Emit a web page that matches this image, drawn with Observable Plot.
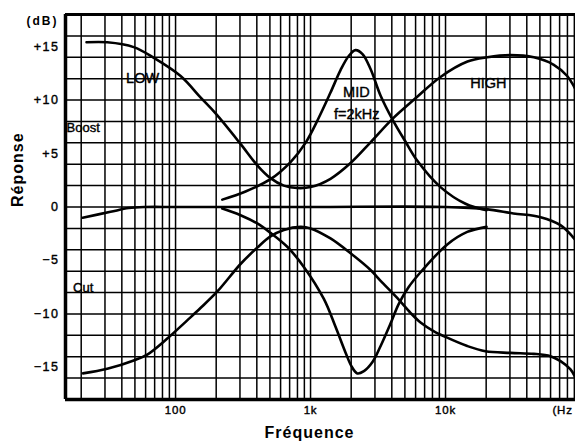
<!DOCTYPE html>
<html><head><meta charset="utf-8">
<script src="https://cdn.jsdelivr.net/npm/d3@7"></script>
<script src="https://cdn.jsdelivr.net/npm/@observablehq/plot@0.6"></script>
<style>
html,body{margin:0;padding:0;background:#fff;overflow:hidden;}
#chart svg{display:block;}
</style></head><body><div id="chart"></div>
<script>
// ---- data ----
const lowHighBoostFreq = [21.9, 31.2, 49, 69, 109, 153, 198, 303, 403, 505, 634, 797, 1000, 1406, 1980, 2783, 4030, 5990, 9180, 14550, 20370, 30300, 45100, 63400, 79700, 91800];
const lowHighBoostDb   = [15.4, 15.4, 14.95, 13.95, 12.25, 10.25, 8.75, 5.9, 3.9, 2.7, 2.0, 1.77, 1.86, 2.64, 4.11, 6.05, 8.22, 10.16, 12.16, 13.6, 14.0, 14.2, 14.0, 13.3, 12.25, 11.0];

const lowHighCutFreq = [20.6, 31.2, 49, 61.7, 86.8, 122, 153, 204, 303, 403, 505, 634, 843, 1000, 1406, 1980, 2783, 3305, 4385, 5505, 6530, 8150, 10000, 14490, 19770, 30300, 45100, 59900, 71100, 84300, 91800];
const lowHighCutDb   = [-15.56, -15.13, -14.35, -13.8, -12.3, -10.6, -9.45, -7.9, -5.33, -3.8, -2.75, -2.15, -1.86, -2.0, -2.94, -4.33, -5.89, -6.9, -8.5, -9.9, -10.8, -11.6, -12.15, -13.0, -13.49, -13.64, -13.73, -13.95, -14.42, -15.19, -15.96];

const flatFreq = [20.5, 33, 45, 60, 100, 1000, 10000, 20000, 31800, 50600, 71000, 91800];
const flatDb   = [-1.0, -0.45, -0.1, 0, 0, 0, 0, -0.2, -0.6, -0.95, -1.7, -3.1];

const midBoostFreq = [222, 330, 505, 711, 918, 1146, 1406, 1668, 1912, 2154, 2427, 2783, 3305, 4030, 5055, 6163, 9180, 14060, 20130];
const midBoostDb   = [0.69, 1.45, 2.6, 4.2, 6.0, 8.3, 10.7, 12.8, 14.1, 14.67, 14.3, 12.9, 10.4, 8.22, 6.1, 4.34, 1.86, 0.3, -0.3];

const midCutFreq = [222, 303, 403, 505, 672, 892, 1255, 1531, 1815, 2013, 2219, 2485, 2877, 3305, 3914, 4487, 5320, 6530, 10300, 14490, 20130];
const midCutDb   = [-0.15, -0.77, -1.54, -2.42, -3.72, -5.6, -8.6, -11.2, -13.6, -14.9, -15.56, -15.35, -14.5, -13.0, -10.9, -9.1, -7.5, -6.1, -3.5, -2.33, -1.86];

const yTickValues = [-15, -10, -5, 0, 5, 10, 15];
const yTickLabels = ["\u221215", "\u221210", "\u22125", "0", "+5", "+10", "+15"];
const xTickValues = [100, 1000, 10000];
const xTickLabels = ["100", "1k", "10k"];

const annotText = ["LOW", "MID", "f=2kHz", "HIGH", "Boost", "Cut"];
const annotFreq = [57, 2187, 2200, 20800, 20.7, 20.7];
const annotDb   = [12, 10.7, 8.7, 11.6, 7.4, -7.6];

// ---- build ----
const xMin = 15.3, xMax = 91800;
const xGrid = [];
for (const dec of [10, 100, 1000, 10000]) for (let m = 1; m <= 9; m++) { const v = m * dec; if (v >= 20 && v < xMax) xGrid.push(v); }
const yGrid = d3.range(-16, 17, 2);

const toRows = (f, v) => f.map((d, i) => ({f: d, db: v[i]}));
const series = [
  toRows(lowHighBoostFreq, lowHighBoostDb),
  toRows(lowHighCutFreq, lowHighCutDb),
  toRows(flatFreq, flatDb),
  toRows(midBoostFreq, midBoostDb),
  toRows(midCutFreq, midCutDb)
];
const annots = annotText.map((t, i) => ({t, f: annotFreq[i], db: annotDb[i]}));
const font = "'Liberation Sans', Arial, Helvetica, sans-serif";
const isSide = d => d.t === "Boost" || d.t === "Cut";

const lineMarks = series.map(s => Plot.line(s, {x: "f", y: "db", stroke: "#000", strokeWidth: 2.6, curve: "catmull-rom"}));

const chart = Plot.plot({
  width: 575, height: 447,
  marginLeft: 65, marginRight: 0, marginTop: 14, marginBottom: 48,
  style: {fontFamily: font, background: "#fff", color: "#000"},
  x: {type: "log", domain: [xMin, xMax], axis: null},
  y: {domain: [-18, 18], axis: null},
  marks: [
    Plot.ruleX(xGrid, {stroke: "#000", strokeWidth: 1.5}),
    Plot.ruleY(yGrid, {stroke: "#000", strokeWidth: 1.5}),
    Plot.ruleX([xMin], {stroke: "#000", strokeWidth: 3.5}),
    Plot.ruleY([18], {stroke: "#000", strokeWidth: 3}),
    Plot.ruleY([-18], {stroke: "#000", strokeWidth: 3.5}),
    ...lineMarks,
    Plot.text(yTickValues, {y: d => d, text: (d, i) => yTickLabels[i], frameAnchor: "left", dx: -6, textAnchor: "end", fontSize: 12.5, fill: "#000", stroke: "#000", strokeWidth: 0.4}),
    Plot.text(xTickValues, {x: d => d, text: (d, i) => xTickLabels[i], frameAnchor: "bottom", dy: 14, fontSize: 11.5, fill: "#000", stroke: "#000", strokeWidth: 0.4}),
    Plot.text(["(Hz"], {x: 62000, text: d => d, frameAnchor: "bottom", dy: 14, textAnchor: "start", fontSize: 11.5, fill: "#000", stroke: "#000", strokeWidth: 0.4}),
    Plot.text(["(dB)"], {text: d => d, frameAnchor: "top-left", dx: -7, dy: 2, textAnchor: "end", fontSize: 12, fontWeight: "bold", fill: "#000"}),
    Plot.text(["R\u00e9ponse"], {text: d => d, frameAnchor: "left", dx: -47.5, rotate: -90, fontSize: 16, fontWeight: "bold", fill: "#000"}),
    Plot.text(["Fr\u00e9quence"], {text: d => d, frameAnchor: "bottom", dx: -11, dy: 38, fontSize: 16, fontWeight: "bold", fill: "#000"}),
    Plot.text(annots, {x: "f", y: "db", text: "t", textAnchor: d => isSide(d) ? "start" : "middle", fontSize: d => isSide(d) ? 13 : 14.5, fill: "#000", stroke: "#000", strokeWidth: 0.4})
  ]
});

// letter spacing tweaks to match the scanned type
d3.select(chart).selectAll("text").each(function() {
  const t = this.textContent;
  let ls = null;
  if (yTickLabels.includes(t)) ls = "1.5px";
  else if (t === "(dB)") ls = "2px";
  else if (t === "R\u00e9ponse" || t === "Fr\u00e9quence") ls = "1px";
  else if (xTickLabels.includes(t) || t === "(Hz") ls = "0.8px";
  if (ls) this.style.letterSpacing = ls;
});

document.getElementById("chart").appendChild(chart);
</script>
</body></html>
